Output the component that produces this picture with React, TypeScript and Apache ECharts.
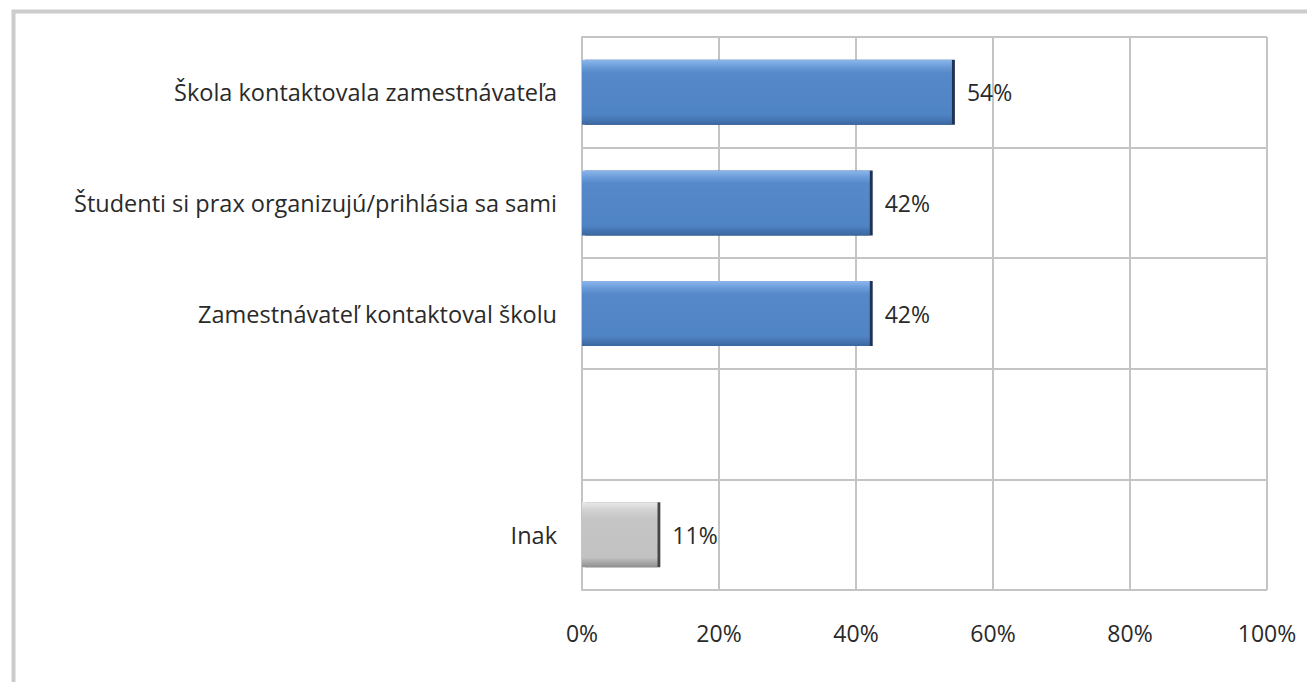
import React, { useEffect, useRef } from "react";
import * as echarts from "echarts";

const categories = [
  "Škola kontaktovala zamestnávateľa",
  "Študenti si prax organizujú/prihlásia sa sami",
  "Zamestnávateľ kontaktoval školu",
  "",
  "Inak",
];
const values: (number | null)[] = [54, 42, 42, null, 11];
const grayIndex = 4;
const xTicks = [0, 20, 40, 60, 80, 100];

const FONT = "Open Sans";

export default function App() {
  const ref = useRef<HTMLDivElement>(null);
  useEffect(() => {
    if (!ref.current) return;
    const chart = echarts.init(ref.current, null, { renderer: "svg" });
    const blue = new echarts.graphic.LinearGradient(0, 0, 0, 1, [
      { offset: 0, color: "#8db7ec" },
      { offset: 0.1, color: "#6c9dda" },
      { offset: 0.2, color: "#5689c9" },
      { offset: 0.85, color: "#4f83c4" },
      { offset: 1, color: "#3b679f" },
    ]);
    const gray = new echarts.graphic.LinearGradient(0, 0, 0, 1, [
      { offset: 0, color: "#e8e8e8" },
      { offset: 0.12, color: "#d2d2d2" },
      { offset: 0.25, color: "#c6c6c6" },
      { offset: 0.85, color: "#c2c2c2" },
      { offset: 1, color: "#8f8f8f" },
    ]);
    chart.setOption({
      animation: false,
      backgroundColor: "#ffffff",
      graphic: [
        {
          type: "rect",
          shape: { x: 13.5, y: 11.5, width: 1310, height: 700 },
          style: { fill: "none", stroke: "#cccccc", lineWidth: 4 },
          silent: true,
        },
      ],
      grid: { left: 582, top: 37, width: 685, height: 553, containLabel: false, show: false },
      xAxis: {
        type: "value",
        min: 0,
        max: 100,
        interval: 20,
        axisLine: { show: false },
        axisTick: { show: false },
        axisLabel: {
          formatter: (v: number) => (xTicks.includes(v) ? v + "%" : ""),
          color: "#2a2a2a",
          fontFamily: FONT,
          fontSize: 23,
          margin: 31,
        },
        splitLine: { show: true, lineStyle: { color: "#c4c4c4", width: 2 } },
      },
      yAxis: {
        type: "category",
        data: categories,
        inverse: true,
        axisLine: { show: true, lineStyle: { color: "#c4c4c4", width: 2 } },
        axisTick: { show: false },
        axisLabel: {
          color: "#2a2a2a",
          fontFamily: FONT,
          fontSize: 23.5,
          margin: 25,
        },
        splitLine: { show: true, lineStyle: { color: "#c4c4c4", width: 2 } },
      },
      series: [
        {
          type: "bar",
          data: values.map((v, i) => ({
            value: v,
            itemStyle: {
              color: i === grayIndex ? gray : blue,
              shadowColor: i === grayIndex ? "rgba(60,60,60,0.95)" : "rgba(20,40,75,0.95)",
              shadowOffsetX: 3,
              shadowOffsetY: 0,
              shadowBlur: 0,
            },
          })),
          barWidth: 65,
          label: {
            show: true,
            position: "right",
            distance: 15,
            formatter: (p: any) => (p.value == null ? "" : p.value + "%"),
            color: "#2a2a2a",
            fontFamily: FONT,
            fontSize: 23,
          },
        },
      ],
    });
    return () => chart.dispose();
  }, []);
  return (
    <div
      ref={ref}
      style={{ position: "fixed", left: 0, top: 0, width: 1307, height: 682 }}
    />
  );
}
